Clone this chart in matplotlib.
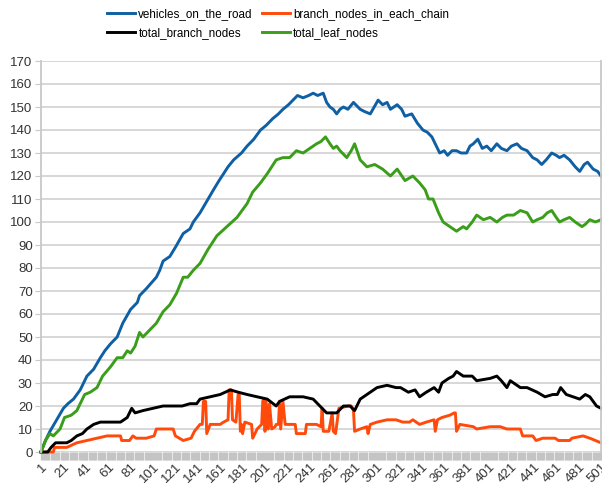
import matplotlib
matplotlib.use('Agg')
import matplotlib.pyplot as plt
from matplotlib.ticker import MultipleLocator, FixedLocator

plt.rcParams['font.family'] = ['Liberation Sans', 'DejaVu Sans']

# vehicles_on_the_road
veh_x = [1, 5, 9, 15, 21, 25, 30, 36, 42, 48, 54, 58, 63, 69, 74, 81, 87, 89, 95, 104,
         107, 110, 116, 121, 128, 134, 137, 143, 149, 155, 160, 164, 168, 173, 180, 185, 191, 197, 202, 208,
         213, 217, 222, 226, 230, 235, 240, 244, 248, 253, 256, 259, 262, 265, 268, 271, 275, 280, 286, 290,
         295, 302, 306, 310, 313, 319, 323, 326, 332, 337, 342, 346, 350, 354, 357, 361, 364, 368, 372, 376,
         381, 384, 387, 391, 395, 399, 403, 408, 412, 417, 421, 426, 430, 435, 440, 444, 448, 452, 457, 461,
         464, 468, 473, 478, 482, 486, 489, 494, 498, 501]
veh_y = [0, 5, 9, 14, 19, 21, 23, 27, 33, 36, 41, 44, 47, 50, 56, 62, 65, 68, 71, 76,
         79, 83, 85, 89, 95, 97, 100, 104, 109, 114, 118, 121, 124, 127, 130, 133, 136, 140, 142, 145,
         147, 149, 151, 153, 155, 154, 155, 156, 155, 156, 152, 150, 149, 147, 149, 150, 149, 152, 149, 148,
         147, 153, 151, 152, 149, 151, 149, 146, 147, 143, 140, 139, 137, 133, 130, 131, 129, 131, 131, 130,
         130, 133, 134, 136, 132, 133, 131, 134, 132, 131, 133, 134, 132, 131, 128, 127, 125, 127, 130, 129,
         128, 129, 127, 124, 122, 125, 126, 123, 122, 120]

# branch_nodes_in_each_chain
chain_x = [1, 12, 13, 24, 33, 42, 51, 60, 69, 72, 73, 80, 83, 86, 95, 102, 104, 113, 119, 121,
           128, 135, 138, 143, 145, 146, 148, 149, 152, 161, 164, 168, 169, 171, 172, 175, 177, 178, 179, 180,
           181, 183, 189, 190, 194, 198, 199, 200, 201, 202, 204, 205, 207, 210, 211, 213, 214, 215, 217, 219,
           228, 229, 237, 238, 247, 251, 252, 253, 258, 261, 262, 264, 267, 275, 278, 280, 281, 286, 292, 293,
           295, 301, 310, 318, 324, 330, 333, 339, 345, 352, 353, 355, 359, 366, 370, 371, 372, 375, 387, 390,
           402, 411, 417, 429, 431, 440, 443, 449, 460, 463, 473, 475, 485, 491, 501]
chain_y = [0, 0, 2, 2, 4, 5, 6, 7, 7, 7, 5, 5, 7, 6, 6, 7, 10, 10, 10, 7,
           5, 6, 9, 12, 12, 22, 22, 8, 12, 12, 13, 14, 27, 27, 14, 13, 25, 25, 9, 12,
           8, 13, 12, 6, 10, 12, 22, 23, 9, 22, 10, 21, 10, 11, 12, 12, 22, 10, 22, 12,
           12, 8, 8, 12, 12, 11, 19, 9, 9, 17, 9, 8, 19, 20, 20, 18, 9, 10, 11, 8,
           12, 13, 14, 14, 13, 13, 14, 12, 13, 14, 9, 14, 15, 16, 17, 17, 9, 12, 11, 10,
           11, 11, 10, 10, 7, 7, 5, 6, 6, 5, 5, 6, 7, 6, 4]

# total_branch_nodes
branch_x = [1, 7, 10, 14, 24, 28, 33, 38, 42, 48, 54, 63, 72, 78, 82, 85, 92, 101, 110, 119,
            127, 134, 140, 143, 152, 161, 170, 177, 185, 194, 203, 211, 214, 223, 235, 244, 250, 256, 265, 271,
            277, 281, 286, 295, 301, 310, 318, 322, 329, 335, 339, 345, 352, 356, 359, 365, 369, 372, 378, 386,
            390, 402, 408, 412, 417, 420, 429, 435, 444, 451, 458, 462, 465, 470, 482, 487, 491, 497, 501]
branch_y = [0, 0, 2, 4, 4, 5, 7, 8, 10, 12, 13, 13, 13, 15, 19, 17, 18, 19, 20, 20,
            20, 21, 21, 23, 24, 25, 27, 26, 25, 24, 23, 20, 22, 24, 24, 23, 20, 17, 17, 20,
            20, 18, 23, 26, 28, 29, 28, 28, 26, 27, 24, 26, 28, 26, 30, 32, 33, 35, 33, 33,
            31, 32, 33, 31, 28, 31, 28, 28, 26, 24, 25, 25, 28, 25, 23, 25, 24, 20, 19]

# total_leaf_nodes
leaf_x = [1, 5, 9, 12, 18, 22, 28, 33, 40, 45, 51, 56, 63, 69, 74, 78, 81, 85, 89, 92,
          98, 104, 110, 116, 122, 128, 132, 137, 143, 150, 158, 167, 176, 185, 190, 197, 203, 211, 217, 223,
          229, 235, 241, 247, 251, 255, 259, 262, 265, 268, 274, 278, 281, 286, 292, 299, 306, 313, 319, 326,
          333, 339, 344, 347, 351, 356, 360, 366, 372, 378, 381, 386, 390, 396, 402, 408, 413, 417, 423, 429,
          435, 440, 444, 449, 453, 457, 461, 464, 468, 473, 478, 484, 487, 491, 496, 501]
leaf_y = [0, 5, 8, 7, 10, 15, 16, 18, 25, 26, 28, 33, 37, 41, 41, 44, 43, 46, 52, 50,
          53, 56, 61, 64, 69, 76, 76, 79, 82, 88, 94, 98, 102, 108, 113, 117, 121, 127, 128, 128,
          131, 130, 132, 134, 135, 137, 134, 132, 133, 131, 128, 131, 134, 127, 124, 125, 123, 120, 123, 118,
          120, 117, 114, 110, 110, 104, 100, 98, 96, 98, 97, 100, 103, 101, 102, 100, 102, 103, 103, 105,
          104, 100, 101, 102, 104, 105, 102, 100, 101, 102, 100, 98, 99, 101, 100, 101]

fig = plt.figure(figsize=(6.02, 4.86), dpi=100)
ax = fig.add_axes([41 / 602, 34 / 486, 560 / 602, 391 / 486])

lw = 2.1
l1, = ax.plot(veh_x, veh_y, color='#0e5fa3', lw=lw)
l2, = ax.plot(chain_x, chain_y, color='#ff4a0c', lw=lw)
l3, = ax.plot(branch_x, branch_y, color='#000000', lw=lw)
l4, = ax.plot(leaf_x, leaf_y, color='#3a9e1a', lw=lw)
for l in (l1, l2, l3, l4):
    l.set_solid_joinstyle('round')
    l.set_clip_on(False)

ax.set_xlim(1, 501)
ax.set_ylim(0, 170)
ax.yaxis.set_major_locator(MultipleLocator(10))
ax.xaxis.set_major_locator(FixedLocator(range(1, 502, 20)))
ax.xaxis.set_minor_locator(FixedLocator([i + 0.5 for i in range(1, 501)]))
ax.grid(axis='y', color='#d4d4d4', lw=1.3)
ax.set_axisbelow(True)

for side in ['top', 'bottom']:
    ax.spines[side].set_visible(False)
for side in ['left', 'right']:
    ax.spines[side].set_color('#c8c8c8')
    ax.spines[side].set_linewidth(1.3)

ax.tick_params(axis='y', direction='out', length=4, color='#c8c8c8', labelsize=9.5,
               labelcolor='#333333', pad=2)
ax.tick_params(axis='x', which='both', direction='out', length=6, color='#c4c4c4',
               width=1.0, labelsize=9.5, labelcolor='#333333', pad=0.5)
plt.setp(ax.get_xticklabels(), rotation=45, ha='right', rotation_mode='anchor')

fig.legend([l1, l3, l2, l4],
           ['vehicles_on_the_road', 'total_branch_nodes',
            'branch_nodes_in_each_chain', 'total_leaf_nodes'],
           loc='upper center', bbox_to_anchor=(278 / 602, 1 - 3 / 486), ncol=2, frameon=False,
           fontsize=8.4, handlelength=2.4, handletextpad=0.3, columnspacing=0.75,
           labelspacing=0.6, borderaxespad=0.0, borderpad=0.4)

fig.savefig('out.png', dpi=100)
